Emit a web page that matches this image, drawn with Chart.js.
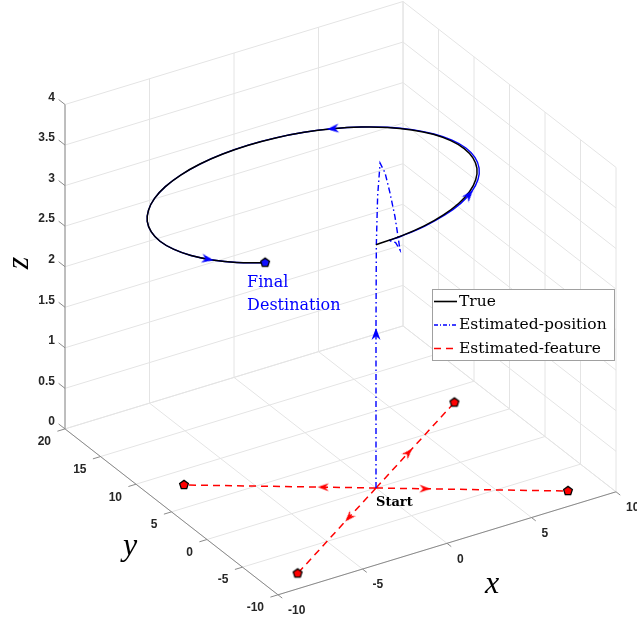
<!DOCTYPE html>
<html><head><meta charset="utf-8">
<script src="https://cdn.jsdelivr.net/npm/chart.js@4.4.1/dist/chart.umd.min.js"></script>
<style>html,body{margin:0;padding:0;background:#fff}#c{display:block}</style>
</head><body>
<canvas id="c" width="637" height="622"></canvas>
<script>
// ---------------- data ----------------
const xLim = [-10, 10], yLim = [-10, 20], zLim = [0, 4];
const xTicks = [-10, -5, 0, 5, 10];
const yTicks = [-10, -5, 0, 5, 10, 15, 20];
const zTicks = [0, 0.5, 1, 1.5, 2, 2.5, 3, 3.5, 4];
const xTickLabels = ['-10', '-5', '0', '5', '10'];
const yTickLabels = ['-10', '-5', '0', '5', '10', '15', '20'];
const zTickLabels = ['0', '0.5', '1', '1.5', '2', '2.5', '3', '3.5', '4'];
const seriesNames = ['True', 'Estimated-position', 'Estimated-feature'];

const startPoint = [0, 0, 0];
const featureX = [8, -8, -8, 8];
const featureY = [-8, 8, -8, 8];
const featureZ = [0, 0, 0, 0];

const trueX = [0, 1.56, 3.08, 4.50, 5.79, 6.89, 7.79, 8.46, 8.86, 9.00, 8.86, 8.46, 7.79, 6.89, 5.79, 4.50, 3.08, 1.56, 0, -1.56, -3.08, -4.50, -5.79, -6.89, -7.79, -8.46, -8.86, -9.00, -8.86, -8.46, -7.79, -6.89, -5.70];
const trueY = [0, 0.14, 0.54, 1.21, 2.11, 3.21, 4.50, 5.92, 7.44, 9.00, 10.56, 12.08, 13.50, 14.79, 15.89, 16.79, 17.46, 17.86, 18.00, 17.86, 17.46, 16.79, 15.89, 14.79, 13.50, 12.08, 10.56, 9.00, 7.44, 5.92, 4.50, 3.21, 2.05];
const trueZ = [3, 3, 3, 3, 3, 3, 3, 3, 3, 3, 3, 3, 3, 3, 3, 3, 3, 3, 3, 3, 3, 3, 3, 3, 3, 3, 3, 3, 3, 3, 3, 3, 3];

// estimated position: climb + overshoot loop, then the circuit
const estX = [0, 0, 0, 0.02, 0.08, 0.20, 0.375, 0.58, 0.79, 0.92, 1.00, 0.95, 0.78,
  1.57, 3.10, 4.55, 5.86, 6.99, 7.90, 8.57, 8.97, 9.10, 8.94, 8.51, 7.83, 6.91, 5.79, 4.50, 3.08, 1.56, 0, -1.56, -3.08, -4.50, -5.79, -6.89, -7.79, -8.46, -8.86, -9.00, -8.86, -8.46, -7.79, -6.89, -5.70];
const estY = [0, 0, 0, 0, -0.04, -0.10, -0.375, -0.58, -0.79, -0.92, -1.00, -0.50, 0.03,
  0.11, 0.49, 1.13, 2.02, 3.14, 4.44, 5.88, 7.42, 9.00, 10.58, 12.10, 13.52, 14.80, 15.89, 16.79, 17.46, 17.86, 18.00, 17.86, 17.46, 16.79, 15.89, 14.79, 13.50, 12.08, 10.56, 9.00, 7.44, 5.92, 4.50, 3.21, 2.05];
const estZ = [0, 1.0, 2.0, 3.0, 3.6, 4.0, 3.89, 3.645, 3.35, 3.10, 2.94, 3.0, 3.0,
  3, 3, 3, 3, 3, 3, 3, 3, 3, 3, 3, 3, 3, 3, 3, 3, 3, 3, 3, 3, 3, 3, 3, 3, 3, 3, 3, 3, 3, 3, 3, 3];
const estLoopEnd = 12; // index where the estimate joins the circuit

// arrow heads on the estimated path: position and heading
const estArrowX = [0, 6.67, 4.50, -7.95];
const estArrowY = [0, 2.78, 16.79, 4.78];
const estArrowZ = [1.9, 3, 3, 3];
const estArrowU = [0, 0.682, -0.866, 0.469];
const estArrowV = [0, 0.731, 0.5, -0.883];
const estArrowW = [1, 0, 0, 0];
// arrow heads on the feature rays
const featArrowX = [2.04, -2.2, -2.75, 3.3];
const featArrowY = [-2.04, 2.2, -2.75, 3.3];
const featArrowZ = [0, 0, 0, 0];

// ---------------- view (orthographic projection) ----------------
const VIEW = { origin: [376, 488], ex: [16.9, -5.15], ey: [-7.1, -5.53], ez: [0, -81.1] };
function proj(X, Y, Z) {
  return { x: VIEW.origin[0] + X * VIEW.ex[0] + Y * VIEW.ey[0] + Z * VIEW.ez[0],
           y: VIEW.origin[1] + X * VIEW.ex[1] + Y * VIEW.ey[1] + Z * VIEW.ez[1] };
}
const GAP = { x: null, y: null };
function seg(list, a, b) { list.push(proj(...a), proj(...b), GAP); }
function heading(p, d) {
  const a = proj(...p), b = proj(p[0] + d[0] * 0.5, p[1] + d[1] * 0.5, p[2] + d[2] * 0.5);
  return Math.atan2(b.x - a.x, -(b.y - a.y)) * 180 / Math.PI;
}

// grid
const grid = [];
xTicks.forEach(x => { seg(grid, [x, yLim[0], zLim[0]], [x, yLim[1], zLim[0]]); seg(grid, [x, yLim[1], zLim[0]], [x, yLim[1], zLim[1]]); });
yTicks.forEach(y => { seg(grid, [xLim[0], y, zLim[0]], [xLim[1], y, zLim[0]]); seg(grid, [xLim[1], y, zLim[0]], [xLim[1], y, zLim[1]]); });
zTicks.forEach(z => { seg(grid, [xLim[0], yLim[1], z], [xLim[1], yLim[1], z]); seg(grid, [xLim[1], yLim[0], z], [xLim[1], yLim[1], z]); });

// axes and ticks
const axes = [];
seg(axes, [xLim[0], yLim[0], 0], [xLim[1], yLim[0], 0]);
seg(axes, [xLim[0], yLim[0], 0], [xLim[0], yLim[1], 0]);
seg(axes, [xLim[0], yLim[1], 0], [xLim[0], yLim[1], zLim[1]]);
xTicks.forEach(x => seg(axes, [x, yLim[0], 0], [x, yLim[0] - 0.6, 0]));
yTicks.forEach(y => seg(axes, [xLim[0], y, 0], [xLim[0] - 0.45, y, 0]));
zTicks.forEach(z => seg(axes, [xLim[0], yLim[1], z], [xLim[0], yLim[1] + 0.9, z]));

// feature rays
const rays = [];
featureX.forEach((fx, i) => seg(rays, startPoint, [fx, featureY[i], featureZ[i]]));

const truePts = trueX.map((x, i) => proj(x, trueY[i], trueZ[i]));
const estPts = estX.map((x, i) => proj(x, estY[i], estZ[i]));
const featPts = featureX.map((x, i) => proj(x, featureY[i], featureZ[i]));
const finalPt = [proj(trueX[trueX.length - 1], trueY[trueY.length - 1], trueZ[trueZ.length - 1])];

const estArrowPts = estArrowX.map((x, i) => proj(x, estArrowY[i], estArrowZ[i]));
const estArrowRot = estArrowX.map((x, i) => heading([x, estArrowY[i], estArrowZ[i]], [estArrowU[i], estArrowV[i], estArrowW[i]]));
const featArrowPts = featArrowX.map((x, i) => proj(x, featArrowY[i], featArrowZ[i]));
const featArrowRot = featArrowX.map((x, i) => heading([x, featArrowY[i], featArrowZ[i]], [featureX[i], featureY[i], featureZ[i]]));

// ---------------- glyphs ----------------
function makeArrow(color, len, wid) {
  const s = Math.ceil(len) + 4, c = document.createElement('canvas');
  c.width = s; c.height = s;
  const g = c.getContext('2d'), cx = s / 2, cy = s / 2;
  g.fillStyle = color; g.beginPath();
  g.moveTo(cx, cy - len / 2); g.lineTo(cx + wid / 2, cy + len / 2);
  g.lineTo(cx, cy + len * 0.18); g.lineTo(cx - wid / 2, cy + len / 2);
  g.closePath(); g.fill();
  return c;
}
function makePentagon(fill, r) {
  const s = Math.ceil(2 * r + 4), c = document.createElement('canvas');
  c.width = s; c.height = s;
  const g = c.getContext('2d'), cx = s / 2, cy = s / 2;
  g.beginPath();
  for (let k = 0; k < 5; k++) {
    const a = (-90 + 72 * k) * Math.PI / 180;
    const px = cx + r * Math.cos(a), py = cy + r * Math.sin(a);
    k ? g.lineTo(px, py) : g.moveTo(px, py);
  }
  g.closePath(); g.fillStyle = fill; g.fill();
  g.lineWidth = 1.3; g.strokeStyle = '#000'; g.stroke();
  return c;
}
const blueArrow = makeArrow('#0000ff', 12, 9);
const redArrow = makeArrow('#ff0000', 11, 8);
const redPent = makePentagon('#ff0000', 4.6);
const bluePent = makePentagon('#1010ff', 4.6);

// ---------------- annotation plugin ----------------
const SERIF = '"DejaVu Serif", "Liberation Serif", serif';
const annot = {
  id: 'annot',
  afterDatasetsDraw(chart) {
    const ctx = chart.ctx, sx = chart.scales.x, sy = chart.scales.y;
    const pix = p => [sx.getPixelForValue(p.x), sy.getPixelForValue(p.y)];
    ctx.save();
    ctx.fillStyle = '#262626';
    ctx.font = 'bold 12px "Liberation Sans", Arial, sans-serif';
    ctx.textBaseline = 'middle';
    ctx.textAlign = 'right';
    zTicks.forEach((z, i) => { const [X, Y] = pix(proj(xLim[0], yLim[1], z)); ctx.fillText(zTickLabels[i], X - 10, Y - 7); });
    yTicks.forEach((y, i) => { const [X, Y] = pix(proj(xLim[0], y, 0)); ctx.fillText(yTickLabels[i], X - 14, Y + 13); });
    ctx.textAlign = 'left';
    xTicks.forEach((x, i) => { const [X, Y] = pix(proj(x, yLim[0], 0)); ctx.fillText(xTickLabels[i], X + 10, Y + 16); });

    // axis labels
    ctx.fillStyle = '#000';
    ctx.font = 'italic 32px "Liberation Serif", serif';
    ctx.textAlign = 'center';
    ctx.fillText('x', 492, 585);
    ctx.fillText('y', 130, 547);
    ctx.save(); ctx.translate(20, 263); ctx.rotate(-Math.PI / 2); ctx.fillText('z', 0, 0); ctx.restore();

    // text annotations
    const s = pix(proj(...startPoint));
    ctx.textAlign = 'left'; ctx.textBaseline = 'alphabetic';
    ctx.font = 'bold 13px ' + SERIF;
    ctx.fillText('Start', s[0] + 0, s[1] + 18);
    const f = pix(finalPt[0]);
    ctx.fillStyle = '#0000ff';
    ctx.font = '16px ' + SERIF;
    ctx.fillText('Final', f[0] - 18, f[1] + 24);
    ctx.fillText('Destination', f[0] - 18, f[1] + 47);

    // legend
    const L = { x: 432.5, y: 289.5, w: 182, h: 71 };
    ctx.fillStyle = '#fff'; ctx.fillRect(L.x, L.y, L.w, L.h);
    ctx.strokeStyle = '#a0a0a0'; ctx.lineWidth = 1; ctx.strokeRect(L.x, L.y, L.w, L.h);
    const rows = [
      { c: '#000', dash: [], w: 1.6 },
      { c: '#0000ff', dash: [4, 2, 1, 2], w: 1.4 },
      { c: '#ff0000', dash: [7, 5], w: 1.5 }];
    ctx.font = '15.5px ' + SERIF; ctx.textBaseline = 'middle';
    rows.forEach((r, i) => {
      const yy = 301.5 + i * 23.5;
      ctx.beginPath(); ctx.setLineDash(r.dash); ctx.strokeStyle = r.c; ctx.lineWidth = r.w;
      ctx.moveTo(434, yy); ctx.lineTo(457, yy); ctx.stroke();
      ctx.setLineDash([]);
      ctx.fillStyle = '#000'; ctx.fillText(seriesNames[i], 459, yy);
    });
    ctx.restore();
  }
};

// ---------------- chart ----------------
new Chart(document.getElementById('c'), {
  type: 'scatter',
  data: {
    datasets: [
      { label: 'grid', data: grid, showLine: true, borderColor: '#e4e4e4', borderWidth: 1, pointRadius: 0, order: 20 },
      { label: 'axes', data: axes, showLine: true, borderColor: '#8a8a8a', borderWidth: 1, pointRadius: 0, order: 19 },
      { label: seriesNames[2], data: rays, showLine: true, borderColor: '#ff0000', borderWidth: 1.5, borderDash: [7, 5], pointRadius: 0, order: 10 },
      { label: seriesNames[1], data: estPts.slice(0, estLoopEnd + 1), showLine: true, borderColor: '#0000ff', borderWidth: 1.4, borderDash: [6, 3, 1.5, 3], pointRadius: 0, order: 9 },
      { label: seriesNames[1] + ' circuit', data: estPts.slice(estLoopEnd), showLine: true, tension: 0.4, borderColor: '#0000ff', borderWidth: 1.4, pointRadius: 0, order: 8 },
      { label: seriesNames[0], data: truePts, showLine: true, tension: 0.4, borderColor: '#000000', borderWidth: 1.5, pointRadius: 0, order: 7 },
      { label: 'est arrows', data: estArrowPts, showLine: false, pointStyle: blueArrow, pointRadius: 6, pointRotation: estArrowRot, order: 4 },
      { label: 'feat arrows', data: featArrowPts, showLine: false, pointStyle: redArrow, pointRadius: 6, pointRotation: featArrowRot, order: 4 },
      { label: 'features', data: featPts, showLine: false, pointStyle: redPent, pointRadius: 6, order: 2 },
      { label: 'final', data: finalPt, showLine: false, pointStyle: bluePent, pointRadius: 6, order: 1 }
    ]
  },
  options: {
    responsive: false, devicePixelRatio: 1, animation: false, events: [],
    layout: { padding: 0, autoPadding: false },
    plugins: { legend: { display: false }, tooltip: { enabled: false } },
    scales: {
      x: { type: 'linear', min: 0, max: 637, display: false },
      y: { type: 'linear', min: 0, max: 622, reverse: true, display: false }
    }
  },
  plugins: [annot]
});
</script>
</body></html>
